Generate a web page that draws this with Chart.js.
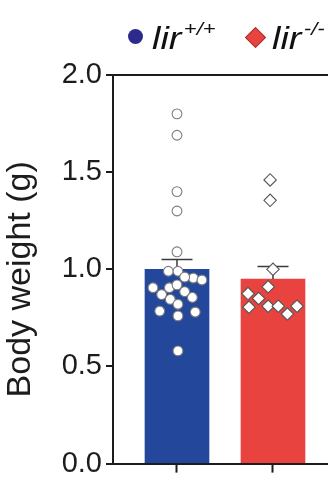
<!DOCTYPE html>
<html>
<head>
<meta charset="utf-8">
<script src="https://cdn.jsdelivr.net/npm/chart.js@4/dist/chart.umd.min.js"></script>
<style>
  html, body { margin: 0; padding: 0; background: #fff; }
  #wrap { position: relative; width: 328px; height: 485px; overflow: hidden; }
  #chart { position: absolute; left: 0; top: 0; }
  .leg { position: absolute; font-family: "Liberation Sans", Arial, sans-serif; color: #111; white-space: nowrap;
         transform: scaleX(1.22); transform-origin: 0 0; }
  .leg i { font-size: 31px; line-height: 31px; }
  .leg sup { font-size: 18px; font-style: italic; position: relative; top: -3px; vertical-align: top; line-height: 18px; margin-left: 2px; }
  .dot { position: absolute; width: 15px; height: 15px; border-radius: 50%; background: #2c2a8c; }
  .dia { position: absolute; width: 13px; height: 13px; background: #e8433f; border: 1px solid #a03030; transform: rotate(45deg); }
</style>
</head>
<body>
<div id="wrap">
  <canvas id="chart" width="328" height="485"></canvas>
  <span class="dot" style="left:128px; top:29px;"></span>
  <span class="leg" style="left:152px; top:23px;"><i>lir</i><sup>+/+</sup></span>
  <span class="dia" style="left:248px; top:30px;"></span>
  <span class="leg" style="left:272px; top:23px;"><i>lir</i><sup>-/-</sup></span>
</div>
<script>
// Genotype groups and their positions on the x axis
const groups = ['lir+/+', 'lir-/-'];
const groupX = [1, 2];

// Bar heights (mean body weight, g) and SEM
const means = [1.00, 0.95];
const sems = [0.05, 0.065];

// Individual animals, body weight (g)
const wildType = [1.80, 1.69, 1.40, 1.30, 1.09, 0.99, 0.99, 0.955, 0.945, 0.96, 0.905,
                  0.905, 0.92, 0.885, 0.87, 0.855, 0.845, 0.82, 0.785, 0.78, 0.76, 0.58];
const knockOut = [1.46, 1.355, 1.00, 0.91, 0.875, 0.85, 0.805, 0.81, 0.81, 0.77, 0.81];

// Horizontal scatter of the dots within each bar (fraction of a category step)
const wildTypeSpread = [0, 0, 0, 0, 0, -0.09, 0.01, 0.17, 0.26, 0.08, -0.25,
                        -0.08, 0, 0.08, -0.16, 0.16, -0.07, 0.01, -0.18, 0.19, 0.01, 0.01];
const knockOutSpread = [-0.03, -0.03, 0, -0.05, -0.26, -0.15, -0.25, -0.05, 0.055, 0.15, 0.25];

// Y axis ticks
const yTicks = [0, 0.5, 1.0, 1.5, 2.0];

const ink = '#1c1c1c';
const family = '"Liberation Sans", Arial, sans-serif';

// Mean ± SEM whiskers, drawn right after the bars so the dots sit on top
const errorBars = {
  id: 'errorBars',
  afterDatasetDraw(chart, args) {
    if (args.index !== 0) return;
    const { ctx, scales: { x, y } } = chart;
    ctx.save();
    ctx.strokeStyle = '#3a3a3a';
    ctx.lineWidth = 1.5;
    groupX.forEach((gx, i) => {
      const px = x.getPixelForValue(gx);
      const base = y.getPixelForValue(means[i]);
      const top = y.getPixelForValue(means[i] + sems[i]);
      ctx.beginPath();
      ctx.moveTo(px, base);
      ctx.lineTo(px, top);
      ctx.moveTo(px - 15.5, top);
      ctx.lineTo(px + 15.5, top);
      ctx.stroke();
    });
    ctx.restore();
  }
};

// Nudge the rotated y-axis title a little lower than the axis midpoint
const titleNudge = {
  id: 'titleNudge',
  afterLayout(chart) {
    const scale = chart.scales.y;
    if (scale._nudged) return;
    const draw = scale.drawTitle;
    scale.drawTitle = function (...a) {
      this.ctx.save();
      this.ctx.translate(0, 10);
      draw.apply(this, a);
      this.ctx.restore();
    };
    scale._nudged = true;
  }
};

new Chart(document.getElementById('chart'), {
  type: 'bar',
  data: {
    datasets: [
      {
        type: 'bar',
        label: 'mean',
        data: groupX.map((gx, i) => ({ x: gx, y: means[i] })),
        backgroundColor: ['#22479b', '#e8433f'],
        barThickness: 64,
        order: 3
      },
      {
        type: 'scatter',
        label: groups[0],
        data: wildType.map((v, i) => ({ x: groupX[0] + wildTypeSpread[i], y: v })),
        pointStyle: 'circle',
        pointRadius: 4.9,
        backgroundColor: '#ffffff',
        borderColor: '#7c7c7c',
        borderWidth: 1.1,
        order: 1
      },
      {
        type: 'scatter',
        label: groups[1],
        data: knockOut.map((v, i) => ({ x: groupX[1] + knockOutSpread[i], y: v })),
        pointStyle: 'rectRot',
        pointRadius: 6.2,
        backgroundColor: '#ffffff',
        borderColor: '#555555',
        borderWidth: 1.1,
        order: 1
      }
    ]
  },
  options: {
    responsive: false,
    animation: false,
    devicePixelRatio: 1,
    layout: { autoPadding: false, padding: { top: 75, right: 0, bottom: 0, left: 0 } },
    plugins: { legend: { display: false }, tooltip: { enabled: false } },
    scales: {
      x: {
        type: 'linear',
        offset: false,
        min: 0.3333,
        max: 2.573,
        afterBuildTicks: s => { s.ticks = groupX.map(v => ({ value: v })); },
        afterFit: s => { s.height = 12; },
        ticks: { display: false },
        grid: { offset: false, drawOnChartArea: false, drawTicks: true, tickLength: 9, tickColor: ink, tickWidth: 2 },
        border: { display: true, color: ink, width: 2 }
      },
      y: {
        min: 0,
        max: 2,
        afterBuildTicks: s => { s.ticks = yTicks.map(v => ({ value: v })); },
        afterFit: s => { s.width = 113; },
        ticks: { font: { family, size: 29 }, color: ink, padding: 4, callback: v => v.toFixed(1) },
        grid: {
          drawTicks: true,
          tickLength: 7,
          tickColor: ink,
          tickWidth: 2,
          lineWidth: 2,
          color: c => (c.tick && c.tick.value === 2 ? ink : 'rgba(0,0,0,0)')
        },
        border: { display: true, color: ink, width: 2 },
        title: {
          display: true,
          text: 'Body weight (g)',
          font: { family, size: 34 },
          color: ink,
          padding: { top: 0, bottom: 0 }
        }
      }
    }
  },
  plugins: [errorBars, titleNudge]
});
</script>
</body>
</html>
